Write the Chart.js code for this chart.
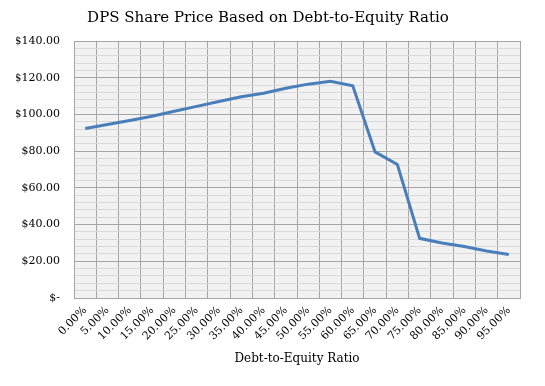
<!DOCTYPE html>
<html>
<head>
<meta charset="utf-8">
<script src="https://cdn.jsdelivr.net/npm/chart.js@4/dist/chart.umd.min.js"></script>
<style>
  html, body { margin: 0; padding: 0; background: #fff; }
  #wrap { width: 545px; height: 386px; }
</style>
</head>
<body>
<div id="wrap"><canvas id="myChart" width="545" height="386"></canvas></div>
<script>
const ratios = ["0.00%", "5.00%", "10.00%", "15.00%", "20.00%", "25.00%", "30.00%", "35.00%", "40.00%", "45.00%",
  "50.00%", "55.00%", "60.00%", "65.00%", "70.00%", "75.00%", "80.00%", "85.00%", "90.00%", "95.00%"];
const sharePrice = [92.3, 94.5, 96.7, 99, 101.7, 104.4, 107, 109.6, 111.5, 114.3,
  116.5, 118, 115.6, 79.6, 72.7, 32.5, 30, 28, 25.6, 23.7];
const yMin = 0;
const yMax = 140;
const yMajor = 20;
const yMinor = 4;

const serif = "'DejaVu Serif', serif";

const plotBg = {
  id: "plotBg",
  beforeDraw(chart) {
    const a = chart.chartArea;
    const ctx = chart.ctx;
    ctx.save();
    ctx.fillStyle = "#f2f2f2";
    ctx.fillRect(a.left, a.top, a.right - a.left, a.bottom - a.top);
    ctx.restore();
  }
};

function money(v) {
  if (v == 0) return "$-";
  return "$" + v.toFixed(2);
}

new Chart("myChart", {
  type: "line",
  data: {
    labels: ratios,
    datasets: [{
      data: sharePrice,
      borderColor: "#4a7ebb",
      borderWidth: 3,
      pointRadius: 0,
      tension: 0,
      fill: false
    }]
  },
  options: {
    responsive: false,
    animation: false,
    layout: { padding: { left: 16, right: 25, top: 0, bottom: 15 } },
    plugins: {
      legend: { display: false },
      tooltip: { enabled: false },
      title: {
        display: true,
        text: "DPS Share Price Based on Debt-to-Equity Ratio",
        color: "#000",
        font: { family: serif, size: 15, weight: "normal" },
        padding: { top: 9, bottom: 14 }
      }
    },
    scales: {
      x: {
        offset: true,
        grid: { offset: true, color: "#a5a5a5", lineWidth: 1, drawTicks: false },
        border: { color: "#a5a5a5" },
        ticks: {
          color: "#000",
          font: { family: serif, size: 11 },
          maxRotation: 45,
          minRotation: 45,
          autoSkip: false,
          padding: 6
        },
        title: {
          display: true,
          text: "Debt-to-Equity Ratio",
          color: "#000",
          font: { family: serif, size: 12 },
          padding: { top: 4, bottom: 5 }
        },
        afterFit(scale) { scale.height = 73; }
      },
      y: {
        min: yMin,
        max: yMax,
        grid: {
          drawTicks: false,
          color: (c) => (c.tick && c.tick.value % yMajor == 0) ? "#a5a5a5" : "#d9d9d9",
          lineWidth: 1
        },
        border: { color: "#a5a5a5" },
        ticks: {
          stepSize: yMinor,
          autoSkip: false,
          color: "#000",
          font: { family: serif, size: 11 },
          padding: 14,
          callback: (v) => (v % yMajor == 0) ? money(v) : ""
        },
        afterFit(scale) { scale.width = 58; }
      }
    }
  },
  plugins: [plotBg]
});
</script>
</body>
</html>
